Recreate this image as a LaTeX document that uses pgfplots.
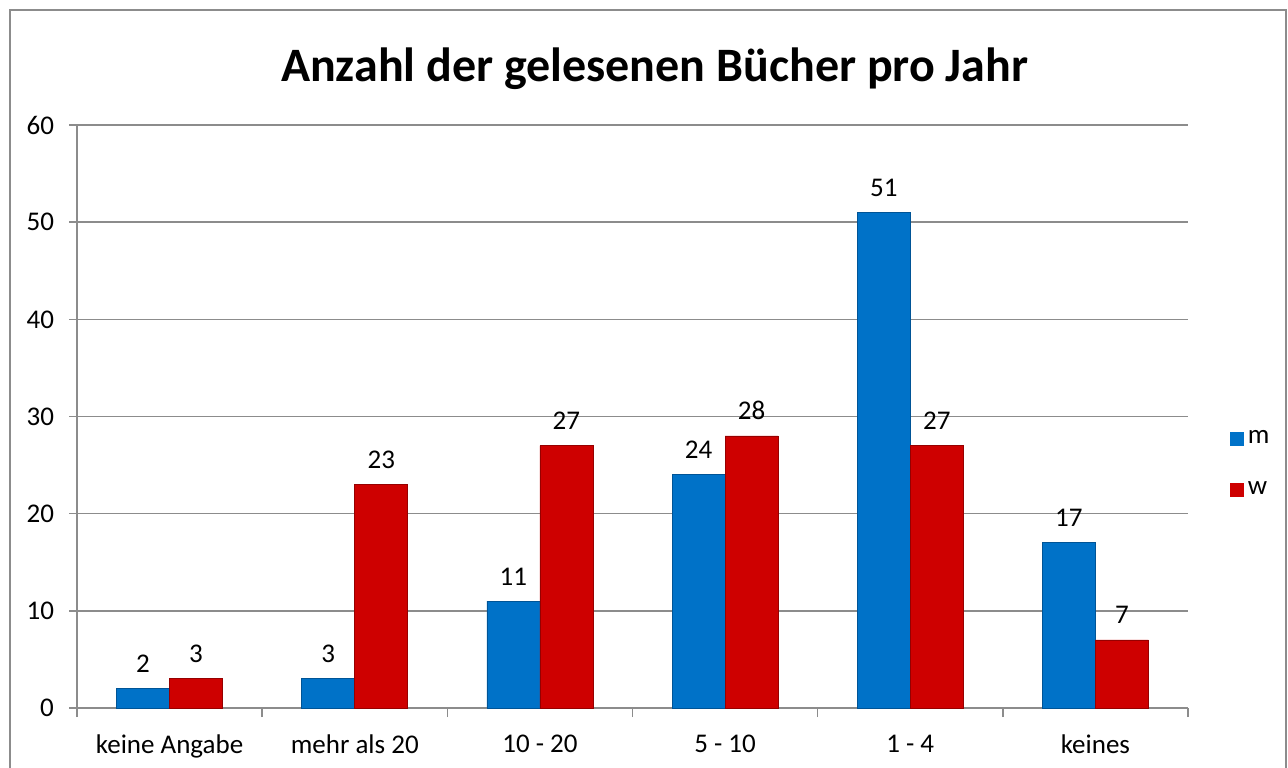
\documentclass[border=0pt]{standalone}
\usepackage{fontspec}
\setmainfont{Carlito}
\usepackage{pgfplots}
\pgfplotsset{compat=1.18}
\definecolor{mblue}{RGB}{0,114,200}
\definecolor{mbluedk}{RGB}{0,84,150}
\definecolor{wred}{RGB}{206,0,0}
\definecolor{wreddk}{RGB}{150,0,0}
\definecolor{gridgray}{RGB}{140,140,140}
\begin{document}
\begin{tikzpicture}
\useasboundingbox (-38.5pt,-29.5pt) rectangle (605.5pt,354pt);
\draw[gridgray, line width=0.8pt] (-33.5pt,-40pt) -- (-33.5pt,349pt) -- (604.5pt,349pt) -- (604.5pt,-40pt);
\begin{axis}[
  at={(0pt,0pt)}, anchor=south west,
  scale only axis, width=555.5pt, height=291.5pt,
  ybar=0pt, bar width=26.5pt,
  xmin=-0.5, xmax=5.5, ymin=0, ymax=60,
  xtick={0,1,2,3,4,5},
  xticklabels={keine Angabe, mehr als 20, 10 - 20, 5 - 10, 1 - 4, keines},
  minor xtick={-0.5,0.5,1.5,2.5,3.5,4.5,5.5},
  ytick={0,10,20,30,40,50,60},
  axis x line*=bottom, axis y line*=left,
  axis line style={gridgray, line width=0.8pt, -},
  major x tick style={draw=none},
  minor x tick style={gridgray, line width=0.8pt},
  minor tick length=4.5pt,
  major tick length=4pt,
  tick align=outside,
  y tick style={gridgray, line width=0.8pt},
  ymajorgrids, grid style={gridgray, line width=0.8pt},
  /pgf/number format/assume math mode=true,
  tick label style={font=\fontsize{13.5}{16}\selectfont},
  yticklabel style={xshift=-4pt},
  xticklabel style={yshift=-6pt},
  title={\fontsize{24}{28}\selectfont\bfseries Anzahl der gelesenen Bücher pro Jahr},
  title style={anchor=base, at={(0.52,1)}, yshift=16pt},
  nodes near coords,
  every node near coord/.append style={font=\fontsize{13.5}{16}\selectfont, yshift=4.5pt, black},
  legend style={at={(1.032,0.418)}, anchor=west, draw=none, fill=none,
    font=\fontsize{13.5}{16}\selectfont, row sep=13.5pt},
  legend image code/.code={\draw[#1, draw=none] (0pt,-3.5pt) rectangle (7pt,3.5pt);},
  legend cell align=left,
]
\addplot[draw=mbluedk, fill=mblue]
  coordinates {(0,2) (1,3) (2,11) (3,24) (4,51) (5,17)};
\addplot[draw=wreddk, fill=wred]
  coordinates {(0,3) (1,23) (2,27) (3,28) (4,27) (5,7)};
\legend{m, w}
\end{axis}
\end{tikzpicture}
\end{document}
